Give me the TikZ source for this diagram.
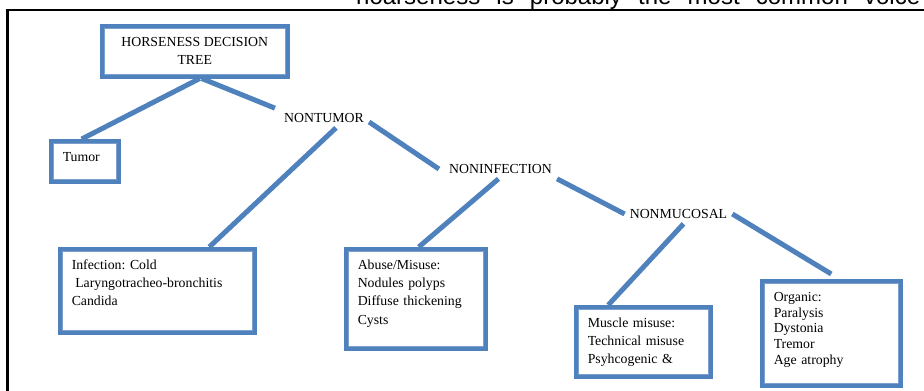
\documentclass[tikz,border=0pt]{standalone}
\usepackage{fontspec}
\setmainfont{Liberation Serif}
\newfontfamily\pagefont{Liberation Sans}
\usetikzlibrary{calc}
\definecolor{treeblue}{HTML}{4F81BD}

\begin{document}
\frenchspacing
\begin{tikzpicture}[x=1pt, y=-1pt,
    every node/.style={font=\fontsize{13.8}{18.3}\selectfont},
    branch/.style={draw=treeblue, line width=5pt},
    frame box/.style={draw=treeblue, line width=3.5pt},
    leaf/.style={frame box, anchor=north west, align=left,
      inner xsep=12pt, inner ysep=8pt, text height=12.5pt},
    split/.style={inner sep=5pt},
    inner rule/.style={draw=treeblue!75, line width=1.2pt}]

  \useasboundingbox (0,0) rectangle (924,391);

  % Cut-off line of page text above the figure
  \begin{scope}
    \clip (0,0) rectangle (924,8.5);
    \node[font=\pagefont\fontsize{24}{26}\selectfont, anchor=base west, inner sep=0pt]
      (pagetext) at (356,4) {\makebox[564pt][s]{hoarseness is probably the most common voice}};
  \end{scope}

  % Figure frame
  \draw[line width=2.5pt] (7.5,391) -- (7.5,10) -- (924,10);

  % Root
  \node[frame box, anchor=north west, minimum width=186pt, minimum height=51pt, align=center]
    (root) at (100,24) {HORSENESS DECISION\\TREE};

  % Decision labels
  \node[split] (nontumor) at (324,118) {NONTUMOR};
  \node[split] (noninfection) at (500.5,169) {NONINFECTION};
  \node[split] (nonmucosal) at (678.5,214) {NONMUCOSAL};

  % Leaves
  \node[leaf, text width=44pt, text depth=12.5pt] (tumor) at (49,139) {Tumor};
  \node[leaf, text width=171pt, text depth=55.5pt] (infection) at (58,247)
    {Infection: Cold\\\hspace*{3.5pt}Laryngotracheo-bronchitis\\Candida};
  \node[leaf, text width=116pt, text depth=71.5pt] (abuse) at (344,247)
    {Abuse/Misuse:\\Nodules polyps\\Diffuse thickening\\Cysts};
  \node[leaf, text width=111pt, text depth=41.5pt] (muscle) at (574,305)
    {Muscle misuse:\\Technical misuse\\Psyhcogenic \&};
  \node[leaf, text width=115pt, text depth=76.5pt, font=\fontsize{13.8}{15.8}\selectfont]
    (organic) at (760,279) {Organic:\\Paralysis\\Dystonia\\Tremor\\Age atrophy};

  % Branches
  \draw[branch] ([xshift=5pt]root.south) -- ([xshift=-3pt]tumor.north);
  \draw[branch] ([xshift=7pt]root.south) -- ([xshift=-4pt]nontumor.north west);
  \draw[branch] ([xshift=12pt]nontumor.south) -- ([xshift=52pt]infection.north);
  \draw[branch] ([yshift=-4pt]nontumor.east) -- ([xshift=-5pt]noninfection.west);
  \draw[branch] ([xshift=-2pt]noninfection.south) -- ([xshift=3pt]abuse.north);
  \draw[branch] (noninfection.south east) -- (nonmucosal.west);
  \draw[branch] ([xshift=5pt]nonmucosal.south) -- ([xshift=-35pt]muscle.north);
  \draw[branch] (nonmucosal.east) -- ([yshift=5pt]organic.north);

  % Inner rules of the double frames
  \foreach \boxname in {root,tumor,infection,abuse,muscle,organic}
    \draw[inner rule] ($(\boxname.north west)+(4.2pt,-4.2pt)$)
      rectangle ($(\boxname.south east)+(-4.2pt,4.2pt)$);

\end{tikzpicture}
\end{document}
